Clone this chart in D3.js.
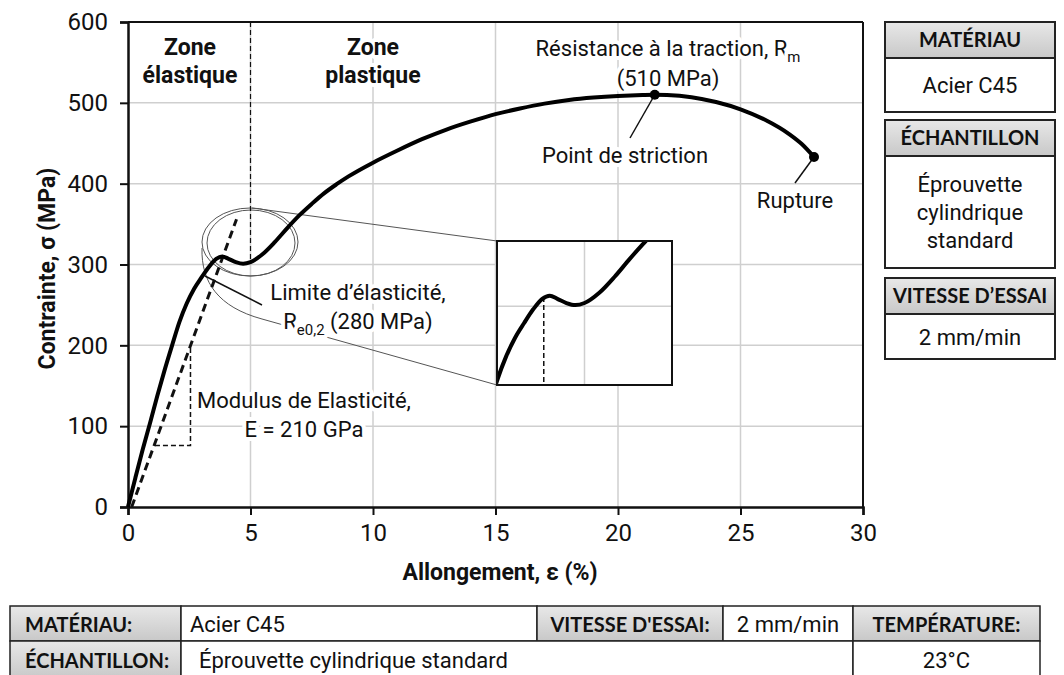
<!DOCTYPE html>
<html>
<head>
<meta charset="utf-8">
<script src="https://cdn.jsdelivr.net/npm/d3@7"></script>
<style>
  body { margin: 0; background: #fff; }
  svg { display: block; }
  .narrow { font-family: "Liberation Sans Narrow", "Arial Narrow", Roboto, "DejaVu Sans Condensed", sans-serif; }
  .calib { font-family: Lato, "Open Sans", sans-serif; }
  .halo { paint-order: stroke; stroke: #fff; stroke-width: 8px; stroke-linejoin: round; }
</style>
</head>
<body>
<div id="chart"></div>
<script>
// stress-strain curve, acier C45 (strain in %, stress in MPa)
var strain = [0, 0.3, 0.6, 0.9, 1.2, 1.5, 1.8, 2.1, 2.4, 2.7, 3.0, 3.3, 3.6, 3.85, 4.1, 4.4, 4.7, 5.0, 5.5, 6.0, 6.5, 7.0, 7.5, 8.0, 8.5, 9, 10, 11, 12, 13, 14, 15, 16, 17, 18, 19, 20, 21, 21.5, 22, 23, 24, 25, 26, 27, 27.5, 28];
var stress = [0, 36, 71, 104, 138, 170, 200, 229, 252, 270, 284, 297, 307, 310, 307, 303, 301, 303, 313, 328, 345, 361, 375, 388, 399, 409, 426, 441, 455, 467, 477, 486, 493, 499, 503.5, 506.5, 508.5, 509.7, 510, 509.7, 507, 501, 492, 479, 461, 449, 433];

// dashed elastic modulus line and its slope triangle
var modulusStrain = [0.15, 4.43];
var modulusStress = [0, 356];
var triangleStrain = [1.1, 2.55, 2.55];
var triangleStress = [76, 76, 198];

var xTicks = [0, 5, 10, 15, 20, 25, 30];
var yTicks = [0, 100, 200, 300, 400, 500, 600];

var strictionPoint = [21.5, 510];
var rupturePoint = [28, 433];
var zoneLimit = 5;
var yieldStrain = 3.65;

var panelHeaders = ["MATÉRIAU", "ÉCHANTILLON", "VITESSE D’ESSAI"];
var panelValues = [["Acier C45"], ["Éprouvette", "cylindrique", "standard"], ["2 mm/min"]];

var tableRow1 = ["MATÉRIAU:", "Acier C45", "VITESSE D'ESSAI:", "2 mm/min", "TEMPÉRATURE:"];
var tableRow2 = ["ÉCHANTILLON:", "Éprouvette cylindrique standard", "23°C"];

var W = 1064, H = 675;
var plotL = 128, plotT = 22, plotR = 863, plotB = 507;

var svg = d3.select("#chart").append("svg")
  .attr("width", W).attr("height", H);

var defs = svg.append("defs");
var grad = defs.append("linearGradient").attr("id", "hdr")
  .attr("x1", 0).attr("y1", 0).attr("x2", 0).attr("y2", 1);
grad.append("stop").attr("offset", "0%").attr("stop-color", "#e8e8e8");
grad.append("stop").attr("offset", "100%").attr("stop-color", "#c8c8c8");

var x = d3.scaleLinear().domain([0, 30]).range([plotL, plotR]);
var y = d3.scaleLinear().domain([0, 600]).range([plotB, plotT]);

var curve = strain.map(function(d, i) { return [d, stress[i]]; });

// grid
var grid = svg.append("g").attr("stroke", "#cfcfcf").attr("stroke-width", 1.5);
grid.selectAll(".vg").data(xTicks.slice(1, -1)).enter().append("line")
  .attr("x1", function(d) { return x(d); }).attr("x2", function(d) { return x(d); })
  .attr("y1", plotT).attr("y2", plotB);
grid.selectAll(".hg").data(yTicks.slice(1, -1)).enter().append("line")
  .attr("y1", function(d) { return y(d); }).attr("y2", function(d) { return y(d); })
  .attr("x1", plotL).attr("x2", plotR);

// lens around the yield zone + zoom lines
var lens = svg.append("g").attr("fill", "none").attr("stroke", "#555").attr("stroke-width", 1);
lens.append("ellipse").attr("cx", 250).attr("cy", 242).attr("rx", 48).attr("ry", 34);
lens.append("ellipse").attr("cx", 251).attr("cy", 243).attr("rx", 44).attr("ry", 33);
lens.append("line").attr("x1", 252).attr("y1", 208).attr("x2", 497).attr("y2", 241);
lens.append("path").attr("d", "M202,248 C201,282 218,307 262,319 L497,385");

// annotations with white halo
function label(lines, cx, cy, opts) {
  var t = svg.append("text").attr("class", "narrow halo")
    .attr("text-anchor", "middle")
    .attr("font-size", opts.size).attr("font-weight", opts.weight || "normal")
    .attr("fill", "#111");
  lines.forEach(function(l, i) {
    var ts = t.append("tspan").attr("x", cx).attr("y", cy + i * opts.lh);
    if (typeof l === "string") ts.text(l);
    else {
      ts.text(l[0]);
      t.append("tspan").attr("font-size", opts.size * 0.68).attr("dy", 6).text(l[1]);
      t.append("tspan").attr("dy", -6).text(l[2] || "");
    }
  });
  return t;
}
label(["Zone", "élastique"], x(2.53), 55, { size: 23, weight: "bold", lh: 28 });
label(["Zone", "plastique"], x(10), 55, { size: 23, weight: "bold", lh: 28 });
label([["Résistance à la traction, R", "m", ""], "(510 MPa)"], 668, 56, { size: 22, lh: 30 });
label(["Point de striction"], 625, 163, { size: 22, lh: 0 });
label(["Rupture"], 795, 208, { size: 22, lh: 0 });
label(["Limite d’élasticité,", ["R", "e0,2", " (280 MPa)"]], 358, 300, { size: 22, lh: 29 });
label(["Modulus de Elasticité,", "E = 210 GPa"], 304, 408, { size: 22, lh: 29 });

// axes
var xAxis = svg.append("g").attr("transform", "translate(0," + plotB + ")")
  .call(d3.axisBottom(x).tickValues(xTicks).tickSize(8).tickPadding(9));
var yAxis = svg.append("g").attr("transform", "translate(" + plotL + ",0)")
  .call(d3.axisLeft(y).tickValues(yTicks).tickSize(8).tickPadding(12));
[xAxis, yAxis].forEach(function(a) {
  a.select(".domain").attr("stroke", "#111").attr("stroke-width", 2.5);
  a.selectAll(".tick line").attr("stroke", "#111").attr("stroke-width", 2);
  a.selectAll(".tick text").attr("class", "narrow").attr("font-size", 24).attr("fill", "#111");
});
svg.append("line").attr("x1", plotL).attr("x2", plotR).attr("y1", plotT).attr("y2", plotT)
  .attr("stroke", "#111").attr("stroke-width", 2);
svg.append("line").attr("x1", plotR).attr("x2", plotR).attr("y1", plotT).attr("y2", plotB)
  .attr("stroke", "#111").attr("stroke-width", 2);

svg.append("text").attr("class", "narrow")
  .attr("x", 500).attr("y", 580).attr("text-anchor", "middle")
  .attr("font-size", 23).attr("font-weight", "bold").attr("fill", "#111")
  .text("Allongement, ε (%)");
svg.append("text").attr("class", "narrow")
  .attr("transform", "translate(55," + y(295) + ") rotate(-90)")
  .attr("text-anchor", "middle")
  .attr("font-size", 23).attr("font-weight", "bold").attr("fill", "#111")
  .text("Contrainte, σ (MPa)");

// zone separator
svg.append("line")
  .attr("x1", x(zoneLimit)).attr("x2", x(zoneLimit))
  .attr("y1", y(600)).attr("y2", y(303))
  .attr("stroke", "#111").attr("stroke-width", 1.2).attr("stroke-dasharray", "5,3");

// modulus line and triangle
var line = d3.line().x(function(d) { return x(d[0]); }).y(function(d) { return y(d[1]); });
svg.append("path")
  .datum(modulusStrain.map(function(d, i) { return [d, modulusStress[i]]; }))
  .attr("d", line).attr("fill", "none").attr("stroke", "#111")
  .attr("stroke-width", 3).attr("stroke-dasharray", "8,5");
svg.append("path")
  .datum(triangleStrain.map(function(d, i) { return [d, triangleStress[i]]; }))
  .attr("d", line).attr("fill", "none").attr("stroke", "#111")
  .attr("stroke-width", 1.5).attr("stroke-dasharray", "5,3");

// main curve
var smooth = d3.line().curve(d3.curveMonotoneX)
  .x(function(d) { return x(d[0]); }).y(function(d) { return y(d[1]); });
svg.append("path").datum(curve).attr("d", smooth)
  .attr("fill", "none").attr("stroke", "#000").attr("stroke-width", 4)
  .attr("stroke-linejoin", "round");

// leaders and points
var leaders = svg.append("g").attr("stroke", "#111").attr("stroke-width", 1.5);
leaders.append("line").attr("x1", 205).attr("y1", 276).attr("x2", 262).attr("y2", 305);
leaders.append("line").attr("x1", x(strictionPoint[0])).attr("y1", y(strictionPoint[1]))
  .attr("x2", 630).attr("y2", 138);
leaders.append("line").attr("x1", x(rupturePoint[0])).attr("y1", y(rupturePoint[1]))
  .attr("x2", 795).attr("y2", 183);
svg.selectAll(".pt").data([strictionPoint, rupturePoint]).enter().append("circle")
  .attr("cx", function(d) { return x(d[0]); }).attr("cy", function(d) { return y(d[1]); })
  .attr("r", 5).attr("fill", "#000");

// inset: zoom on the yield zone
var ix = d3.scaleLinear().domain([2.1, 7.9]).range([497, 672]);
var iy = d3.scaleLinear().domain([225, 362]).range([385, 241]);
defs.append("clipPath").attr("id", "inset").append("rect")
  .attr("x", 497).attr("y", 241).attr("width", 175).attr("height", 144);
var inset = svg.append("g");
inset.append("rect").attr("x", 497).attr("y", 241).attr("width", 175).attr("height", 144)
  .attr("fill", "#fff");
inset.append("line").attr("x1", ix(5)).attr("x2", ix(5)).attr("y1", 241).attr("y2", 385)
  .attr("stroke", "#cfcfcf").attr("stroke-width", 1.5);
inset.append("line").attr("y1", iy(300)).attr("y2", iy(300)).attr("x1", 497).attr("x2", 672)
  .attr("stroke", "#cfcfcf").attr("stroke-width", 1.5);
var yieldStress = d3.interpolateNumber(297, 307)((yieldStrain - 3.3) / 0.3);
inset.append("line").attr("x1", ix(yieldStrain)).attr("x2", ix(yieldStrain))
  .attr("y1", iy(yieldStress)).attr("y2", 385)
  .attr("stroke", "#111").attr("stroke-width", 1.5).attr("stroke-dasharray", "5,3");
inset.append("path").datum(curve)
  .attr("clip-path", "url(#inset)")
  .attr("d", d3.line().curve(d3.curveMonotoneX)
    .x(function(d) { return ix(d[0]); }).y(function(d) { return iy(d[1]); }))
  .attr("fill", "none").attr("stroke", "#000").attr("stroke-width", 4);
inset.append("rect").attr("x", 497).attr("y", 241).attr("width", 175).attr("height", 144)
  .attr("fill", "none").attr("stroke", "#111").attr("stroke-width", 2);

// right panel
var panelTop = [22, 120, 278];
var bodyH = [54, 112, 45];
var px0 = 885, pw = 170, hh = 36;
panelHeaders.forEach(function(h, i) {
  var g = svg.append("g");
  g.append("rect").attr("x", px0).attr("y", panelTop[i]).attr("width", pw).attr("height", hh)
    .attr("fill", "url(#hdr)");
  g.append("rect").attr("x", px0).attr("y", panelTop[i]).attr("width", pw).attr("height", hh + bodyH[i])
    .attr("fill", "none").attr("stroke", "#222").attr("stroke-width", 2);
  g.append("line").attr("x1", px0).attr("x2", px0 + pw)
    .attr("y1", panelTop[i] + hh).attr("y2", panelTop[i] + hh)
    .attr("stroke", "#222").attr("stroke-width", 2);
  g.append("text").attr("class", "calib").attr("x", px0 + pw / 2).attr("y", panelTop[i] + 25)
    .attr("text-anchor", "middle").attr("font-size", 20).attr("font-weight", "bold")
    .attr("fill", "#111").text(h);
  var vals = panelValues[i];
  var mid = panelTop[i] + hh + bodyH[i] / 2;
  vals.forEach(function(v, j) {
    g.append("text").attr("class", "narrow")
      .attr("x", px0 + pw / 2).attr("y", mid + (j - (vals.length - 1) / 2) * 28 + 8)
      .attr("text-anchor", "middle").attr("font-size", 22).attr("fill", "#111").text(v);
  });
});

// bottom table
var rowY = [606, 641, 679];
var cells1 = [[10, 181], [181, 537], [537, 723], [723, 853], [853, 1040]];
var cells2 = [[10, 181], [181, 853], [853, 1040]];
var grey1 = [true, false, true, false, true];
var grey2 = [true, false, false];
function drawRow(cells, texts, grey, y0, y1) {
  cells.forEach(function(c, i) {
    svg.append("rect").attr("x", c[0]).attr("y", y0).attr("width", c[1] - c[0]).attr("height", y1 - y0)
      .attr("fill", grey[i] ? "url(#hdr)" : "#fff")
      .attr("stroke", "#222").attr("stroke-width", 1.5);
    var bold = grey[i];
    var t = svg.append("text").attr("class", bold ? "calib" : "narrow")
      .attr("y", (y0 + y1) / 2 + 8)
      .attr("font-size", bold ? 20 : 22).attr("font-weight", bold ? "bold" : "normal")
      .attr("fill", "#111").text(texts[i]);
    if (i === 0) t.attr("x", 25);
    else if (i === 1) t.attr("x", c[0] + (cells.length === 5 ? 9 : 18));
    else t.attr("x", (c[0] + c[1]) / 2).attr("text-anchor", "middle");
  });
}
drawRow(cells1, tableRow1, grey1, rowY[0], rowY[1]);
drawRow(cells2, tableRow2, grey2, rowY[1], rowY[2]);
</script>
</body>
</html>
